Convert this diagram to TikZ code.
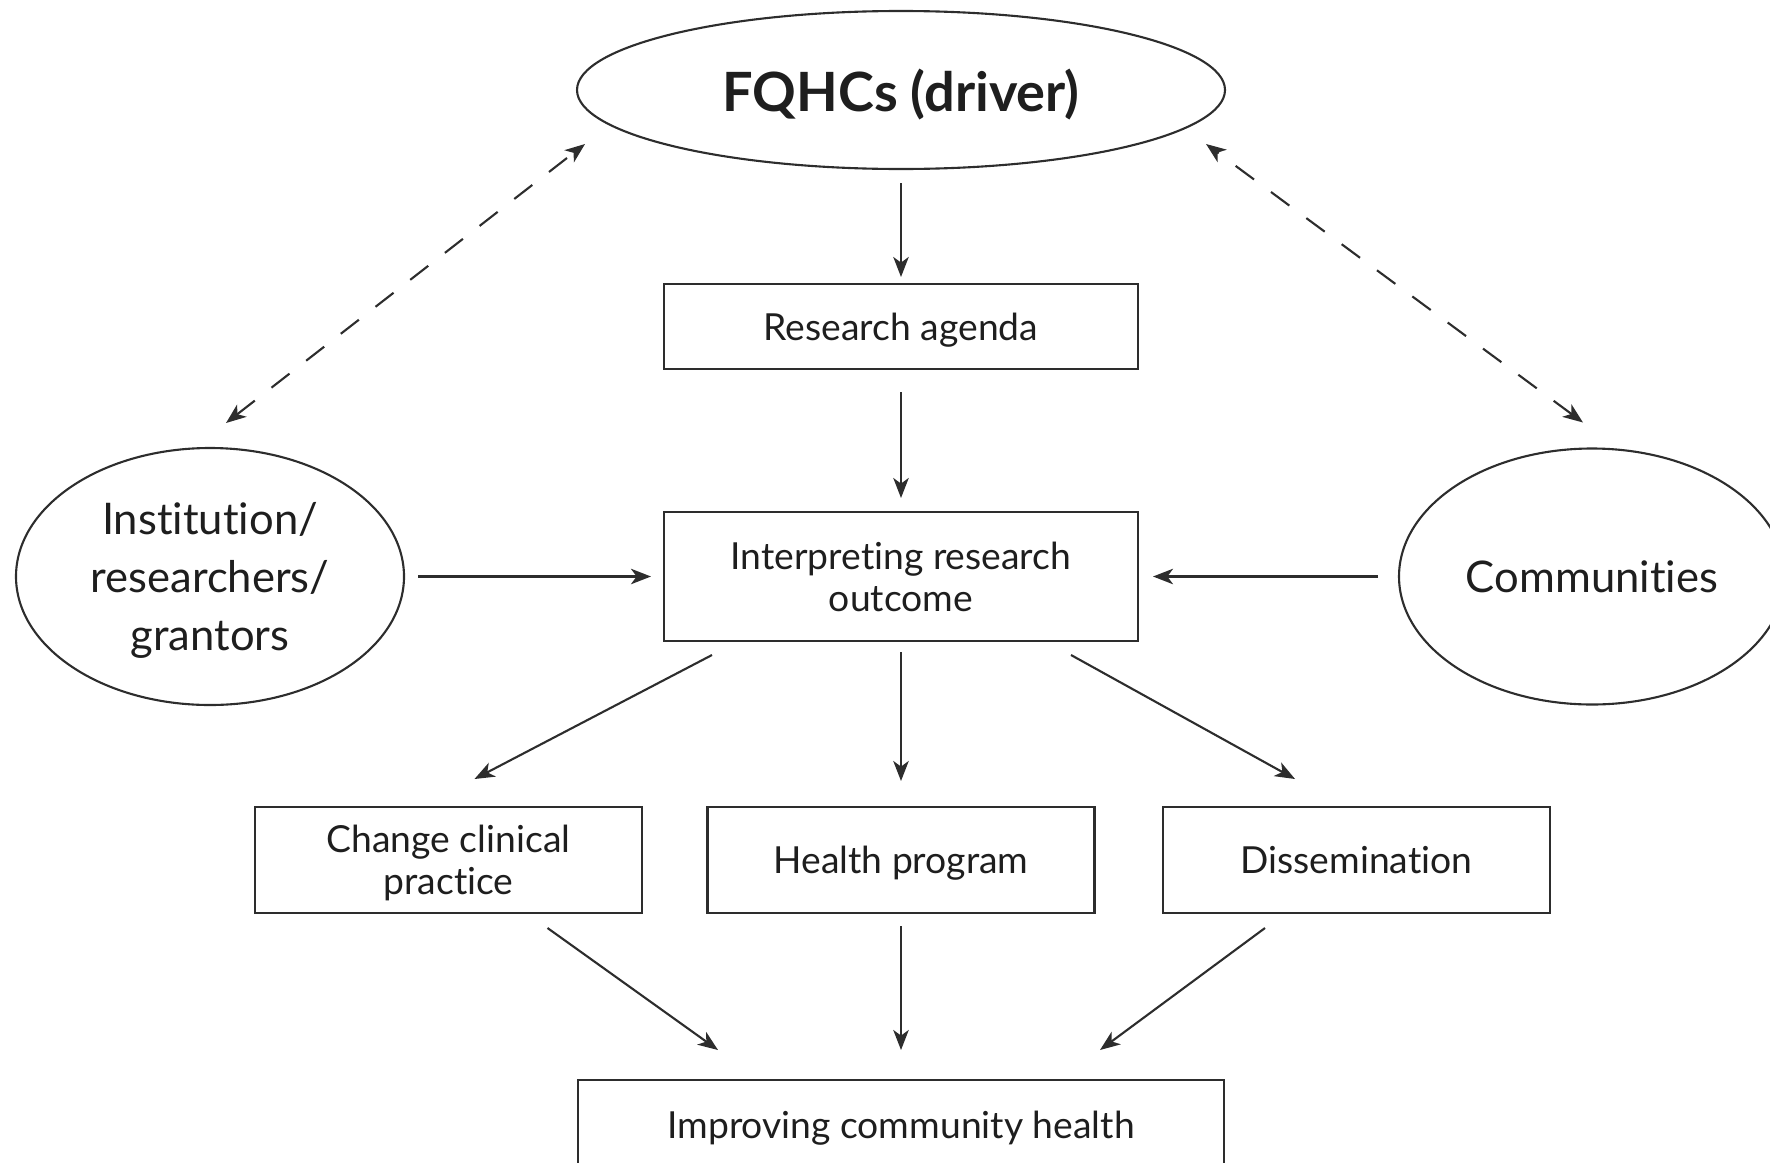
\documentclass[tikz,border=0pt]{standalone}
\usepackage{fontspec}
\setmainfont{Lato}[Ligatures=NoCommon]
\usetikzlibrary{arrows.meta,positioning,calc,shapes.geometric}
\definecolor{fqline}{RGB}{45,45,45}
\definecolor{fqtext}{RGB}{30,30,30}
\tikzset{
  box/.style={draw=fqline, line width=0.6pt, align=center, text=fqtext, inner sep=0pt, outer sep=0pt,
    font=\fontsize{10.6}{11.9}\selectfont, text depth=0pt, minimum width=3.87cm, minimum height=1.06cm},
  oval/.style={draw=fqline, ellipse, line width=0.6pt, align=center, text=fqtext, inner sep=0pt, outer sep=0pt,
    font=\fontsize{12.4}{16.5}\selectfont, text depth=0pt},
  arrow/.style={-{Stealth[length=5.7pt,width=4.4pt,inset=1.6pt]}, line width=0.6pt, draw=fqline},
  dasharrow/.style={{Stealth[length=5.7pt,width=4.4pt,inset=1.6pt]}-{Stealth[length=5.7pt,width=4.4pt,inset=1.6pt]},
    line width=0.6pt, draw=fqline, dash pattern=on 6.5pt off 6pt},
}
\begin{document}
\begin{tikzpicture}
  \useasboundingbox (0,0) rectangle (17.70,11.62);
  \clip (0,0) rectangle (17.70,11.62);
  % nodes
  \node[oval, minimum width=6.48cm, minimum height=1.58cm, font=\fontsize{15.4}{16}\selectfont\bfseries] (fqhc) at (9.01,10.72) {FQHCs (driver)};
  \node[box, minimum width=4.74cm, minimum height=0.85cm] (agenda) at (9.01,8.355) {Research agenda};
  \node[box, minimum width=4.74cm, minimum height=1.29cm] (interp) at (9.01,5.855) {Interpreting research\\outcome};
  \node[oval, minimum width=3.88cm, minimum height=2.57cm] (inst) at (2.10,5.855) {Institution/\\researchers/\\grantors};
  \node[oval, minimum width=3.86cm, minimum height=2.56cm] (comm) at (15.92,5.855) {Communities};
  \node[box] (change) at (4.485,3.02) {Change clinical\\practice};
  \node[box] (health) at (9.01,3.02) {Health program};
  \node[box] (dissem) at (13.565,3.02) {Dissemination};
  \node[box, minimum width=6.46cm, minimum height=0.9cm] (improve) at (9.01,0.37) {Improving community health};
  % arrows
  \draw[arrow] ([yshift=-0.14cm]fqhc.south) -- ([yshift=0.07cm]agenda.north);
  \draw[arrow] ([yshift=-0.23cm]agenda.south) -- ([yshift=0.14cm]interp.north);
  \draw[arrow] ([xshift=0.14cm]inst.east) -- ([xshift=-0.13cm]interp.west);
  \draw[arrow] ([xshift=-0.21cm]comm.west) -- ([xshift=0.15cm]interp.east);
  \draw[arrow] ([shift={(-1.89,-0.14)}]interp.south) -- ([shift={(0.26,0.28)}]change.north);
  \draw[arrow] ([yshift=-0.11cm]interp.south) -- ([yshift=0.26cm]health.north);
  \draw[arrow] ([shift={(1.70,-0.14)}]interp.south) -- ([shift={(-0.615,0.28)}]dissem.north);
  \draw[arrow] ([shift={(0.99,-0.15)}]change.south) -- ([shift={(-1.83,0.30)}]improve.north);
  \draw[arrow] ([yshift=-0.13cm]health.south) -- ([yshift=0.30cm]improve.north);
  \draw[arrow] ([shift={(-0.915,-0.15)}]dissem.south) -- ([shift={(1.99,0.30)}]improve.north);
  \draw[dasharrow] ([shift={(0.16,0.25)}]inst.north) -- ([shift={(-3.16,-0.54)}]fqhc.center);
  \draw[dasharrow] ([shift={(-0.09,0.26)}]comm.north) -- ([shift={(3.05,-0.54)}]fqhc.center);
\end{tikzpicture}
\end{document}
